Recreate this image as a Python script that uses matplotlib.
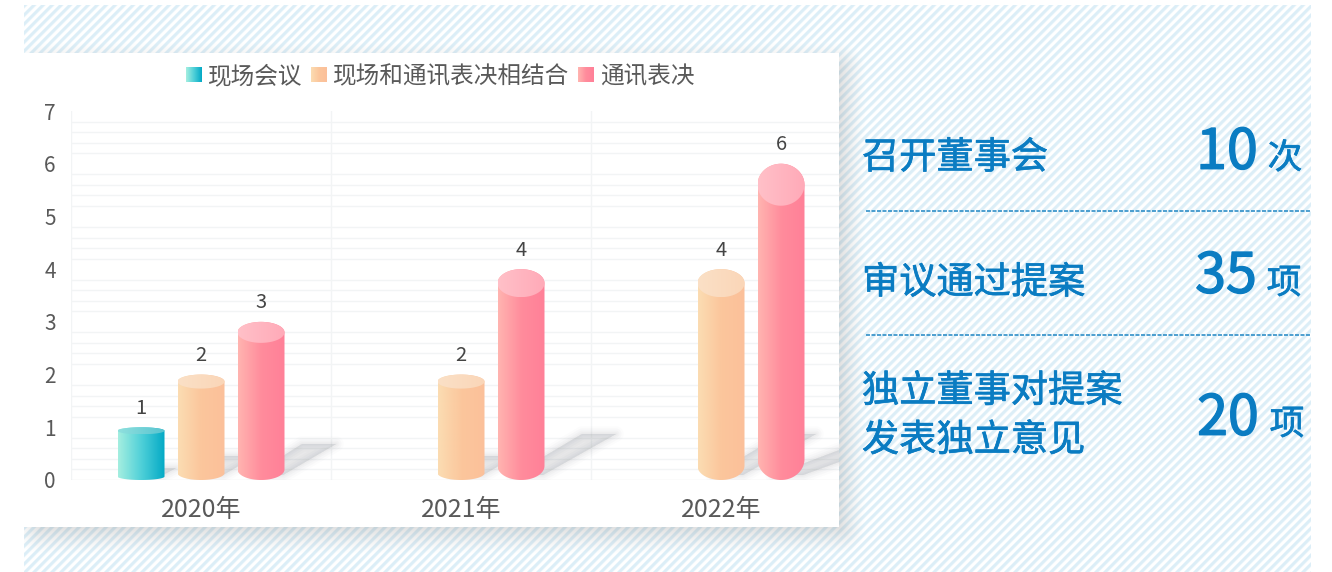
import numpy as np
import matplotlib
matplotlib.use("Agg")
import matplotlib.pyplot as plt
import matplotlib.patheffects as pe
from matplotlib.colors import LinearSegmentedColormap
from matplotlib.patches import Polygon

plt.rcParams['font.family'] = ['Noto Sans CJK SC', 'DejaVu Sans']

years = ['2020年', '2021年', '2022年']
series_names = ['现场会议', '现场和通讯表决相结合', '通讯表决']
onsite = [1, 0, 0]
mixed = [2, 2, 4]
remote = [3, 4, 6]
y_ticks = [0, 1, 2, 3, 4, 5, 6, 7]

stat_labels = ['召开董事会', '审议通过提案', '独立董事对提案\n发表独立意见']
stat_values = ['10', '35', '20']
stat_units = ['次', '项', '项']

W, H = 1332, 572
BLUE = '#0a7cc2'
GREY = '#595959'

body_cols = [['#a4eee0', '#4fd0d8', '#04aac6'],
             ['#fbdcb2', '#fbc69c', '#fcc09a'],
             ['#ffb4b0', '#ff8c9c', '#ff8098']]
top_cols = [['#8fe0de', '#58c4d0'], ['#fbe0c6', '#fad6b8'], ['#ffc0c8', '#ffaab8']]

fig = plt.figure(figsize=(W / 100, H / 100), dpi=100)

# background: stripes, panel shadow, white panel
bg = fig.add_axes([0, 0, 1, 1])
bg.set_xlim(0, W)
bg.set_ylim(H, 0)
bg.axis('off')

yy, xx = np.mgrid[0:H, 0:W]
stripe = 0.5 + 0.5 * np.sin(2 * np.pi * (xx + yy) / 9.0)
stripe = np.clip((stripe - 0.5) * 1.6 + 0.5, 0, 1)
rgb = np.ones((H, W, 3))
light = np.array([0.865, 0.935, 0.97])
for i in range(3):
    rgb[:, :, i] = 1 - stripe * (1 - light[i])

dx = np.maximum(np.maximum(40 - xx, xx - 839), 0)
dy = np.maximum(np.maximum(68 - yy, yy - 527), 0)
dist = np.sqrt(dx ** 2 + dy ** 2)
shade = 0.2 * np.clip(1 - dist / 26.0, 0, 1) ** 1.3
for i in range(3):
    rgb[:, :, i] = rgb[:, :, i] * (1 - shade) + 0.42 * shade

outside = (xx < 24) | (xx >= 1311) | (yy < 5)
rgb[outside] = 1
rgb[(xx >= 24) & (xx < 839) & (yy >= 53) & (yy < 527)] = 1
bg.imshow(rgb, extent=(0, W, H, 0), origin='upper', aspect='auto', interpolation='bilinear')
bg.set_xlim(0, W)
bg.set_ylim(H, 0)

# chart area
ax = fig.add_axes([71 / W, 1 - 480 / H, (839 - 71) / W, (480 - 111) / H], zorder=2)
ax.patch.set_visible(False)
ax.set_axisbelow(True)
px_x = 1 / 260.0
px_y = 1 / 52.7
offsets = [-60 * px_x, 0, 60 * px_x]
half_w = 23.5 * px_x


def cylinder_outline(x, v, top_only=False):
    ry = 3.5 * v * px_y
    t = np.linspace(0, 2 * np.pi, 90)
    if top_only:
        return np.column_stack([x + half_w * np.cos(t), v - ry + ry * np.sin(t)])
    t1 = np.linspace(0, np.pi, 45)
    t2 = np.linspace(np.pi, 2 * np.pi, 45)
    upper = np.column_stack([x + half_w * np.cos(t1), v - ry + ry * np.sin(t1)])
    lower = np.column_stack([x + half_w * np.cos(t2), ry + ry * np.sin(t2)])
    return np.vstack([upper, lower])


def shadow(x, v):
    h = min(12 * v, 46) * px_y
    reach = (20 * v + 15) * px_x
    pts = np.array([[x - 8 * px_x, 5 * px_y], [x + 22 * px_x, 5 * px_y],
                    [x + reach, h], [x + reach - 34 * px_x, h]])
    for lw, a in [(11, 0.02), (8, 0.03), (5, 0.035), (2.5, 0.04), (0.5, 0.04)]:
        ax.add_patch(Polygon(pts, closed=True, fc=(0.45, 0.47, 0.5, a), ec=(0.45, 0.47, 0.5, a),
                             lw=lw, joinstyle='round', zorder=1.5))


def gradient_fill(poly_pts, cols, x, zorder):
    cmap = LinearSegmentedColormap.from_list('g', cols)
    patch = Polygon(poly_pts, closed=True, fc='none', ec='none', transform=ax.transData)
    ax.add_patch(patch)
    ymin, ymax = poly_pts[:, 1].min(), poly_pts[:, 1].max()
    im = ax.imshow(np.linspace(0, 1, 64).reshape(1, -1), cmap=cmap, aspect='auto',
                   extent=(x - half_w, x + half_w, ymin, ymax), zorder=zorder)
    im.set_clip_path(patch)


all_series = [onsite, mixed, remote]
for s, vals in enumerate(all_series):
    for g, v in enumerate(vals):
        if v:
            shadow(g + offsets[s], v)

for s, vals in enumerate(all_series):
    for g, v in enumerate(vals):
        if not v:
            continue
        x = g + offsets[s]
        gradient_fill(cylinder_outline(x, v), body_cols[s], x, 3)
        gradient_fill(cylinder_outline(x, v, top_only=True), top_cols[s], x, 3.2)
        ax.text(x, v + 19 * px_y, str(v), ha='center', va='center', fontsize=14.5, color='#444444', zorder=4)

ax.set_xlim(-0.5, (839 - 201) * px_x)
ax.set_ylim(0, 7)
ax.set_xticks(range(len(years)))
ax.set_xticklabels(years)
ax.set_yticks(y_ticks)
ax.set_yticks(np.arange(0, 35) / 5, minor=True)
ax.set_xticks([-0.5, 0.5, 1.5], minor=True)
ax.grid(which='minor', color='#f2f4f5', lw=1.0)
ax.grid(which='major', visible=False)
ax.axhline(0, color='#eceeef', lw=1.0, zorder=1)
ax.tick_params(which='both', length=0)
ax.tick_params(axis='x', labelsize=18, labelcolor=GREY, pad=12)
ax.tick_params(axis='y', labelsize=15, labelcolor=GREY, pad=11)
for sp in ax.spines.values():
    sp.set_visible(False)

# legend
swatch_x = [186, 311, 578]
for name, sx, cols in zip(series_names, swatch_x, body_cols):
    cmap = LinearSegmentedColormap.from_list('g', cols)
    bg.imshow(np.linspace(0, 1, 32).reshape(1, -1), cmap=cmap, aspect='auto',
              extent=(sx, sx + 16, 82, 67), zorder=3)
    bg.text(sx + 22, 77, name, fontsize=17, color=GREY, ha='left', va='center', zorder=3)
bg.set_xlim(0, W)
bg.set_ylim(H, 0)

# right side stats
label_y = [158, 283, 416]
value_y = [153, 277, 419]
unit_y = [159, 284, 425]
value_x = [1227, 1226, 1228]
unit_x = [1285, 1284, 1287]
heavy = [pe.withStroke(linewidth=0.5, foreground=BLUE)]
heavier = [pe.withStroke(linewidth=1.0, foreground=BLUE)]
for lab, val, unit, ly, vy, uy, vx, ux in zip(stat_labels, stat_values, stat_units,
                                              label_y, value_y, unit_y, value_x, unit_x):
    bg.text(862, ly, lab, fontsize=26.8, color=BLUE, ha='left', va='center',
            linespacing=1.34, zorder=3, path_effects=heavy)
    bg.text(vx, vy, val, fontsize=40, color=BLUE, ha='center', va='center', zorder=3, path_effects=heavier)
    bg.text(ux, uy, unit, fontsize=25, color=BLUE, ha='center', va='center', zorder=3, path_effects=heavy)

for y in [211, 335]:
    bg.plot([866, 1310], [y, y], color='#1f86c4', lw=1.1, ls=(0, (2.6, 1.0)), zorder=3)

fig.savefig('out.png', dpi=100)
